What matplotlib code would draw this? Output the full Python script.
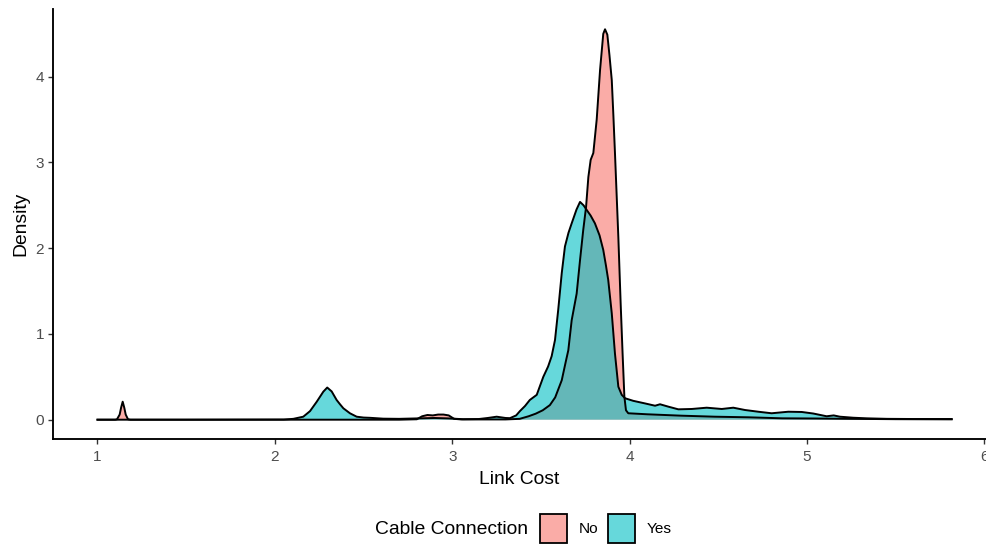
import matplotlib
matplotlib.use("Agg")
import matplotlib.pyplot as plt
from matplotlib.patches import Patch
from matplotlib.colors import to_rgba

plt.rcParams['font.family'] = ['Liberation Sans', 'DejaVu Sans']

# ---- data ----
groups = ["No", "Yes"]
colors = {"No": "#F8766D", "Yes": "#00BFC4"}

no_x = [1.000, 1.100, 1.110, 1.125, 1.133, 1.142, 1.151, 1.159, 1.172, 1.185,
        2.700, 2.800, 2.830, 2.860, 2.890, 2.920, 2.950, 2.980, 3.010, 3.050,
        3.300, 3.380, 3.430, 3.470, 3.510, 3.550, 3.580, 3.617, 3.640, 3.654,
        3.673, 3.701, 3.720, 3.738, 3.754, 3.767, 3.780, 3.795, 3.814, 3.833,
        3.851, 3.861, 3.874, 3.886, 3.899, 3.908, 3.917, 3.936, 3.949, 3.960,
        3.970, 3.979, 3.992, 4.100, 4.290, 4.480, 4.670, 4.860, 5.050, 5.250,
        5.500, 5.815]
no_y = [0.000, 0.000, 0.005, 0.060, 0.140, 0.210, 0.140, 0.060, 0.005, 0.000,
        0.000, 0.005, 0.040, 0.055, 0.050, 0.060, 0.060, 0.050, 0.010, 0.003,
        0.003, 0.010, 0.040, 0.070, 0.110, 0.170, 0.260, 0.460, 0.680, 0.810,
        1.160, 1.470, 1.860, 2.210, 2.480, 2.830, 3.030, 3.110, 3.500, 4.080,
        4.500, 4.553, 4.490, 4.250, 3.960, 3.550, 3.110, 2.130, 1.360, 0.770,
        0.270, 0.110, 0.075, 0.063, 0.047, 0.035, 0.028, 0.016, 0.014, 0.010,
        0.006, 0.004]

yes_x = [1.000, 1.500, 2.050, 2.104, 2.160, 2.198, 2.236, 2.273, 2.295, 2.320,
         2.348, 2.367, 2.386, 2.423, 2.461, 2.500, 2.536, 2.611, 2.700, 2.800,
         2.900, 2.980, 3.060, 3.150, 3.200, 3.250, 3.300, 3.325, 3.360, 3.381,
         3.410, 3.437, 3.476, 3.513, 3.540, 3.560, 3.579, 3.597, 3.617, 3.635,
         3.655, 3.673, 3.700, 3.720, 3.740, 3.758, 3.780, 3.804, 3.830, 3.851,
         3.866, 3.879, 3.899, 3.917, 3.936, 3.955, 3.974, 4.020, 4.086, 4.143,
         4.171, 4.218, 4.274, 4.350, 4.434, 4.519, 4.584, 4.650, 4.725, 4.800,
         4.894, 4.970, 5.035, 5.110, 5.150, 5.185, 5.260, 5.336, 5.450, 5.600,
         5.815]
yes_y = [0.000, 0.000, 0.002, 0.010, 0.035, 0.100, 0.210, 0.327, 0.375, 0.330,
         0.230, 0.180, 0.133, 0.075, 0.035, 0.025, 0.022, 0.012, 0.010, 0.015,
         0.020, 0.015, 0.006, 0.008, 0.020, 0.035, 0.020, 0.018, 0.050, 0.100,
         0.160, 0.230, 0.290, 0.500, 0.620, 0.740, 0.930, 1.280, 1.710, 2.020,
         2.180, 2.290, 2.450, 2.540, 2.500, 2.445, 2.380, 2.290, 2.150, 1.980,
         1.800, 1.630, 1.240, 0.770, 0.385, 0.290, 0.250, 0.220, 0.190, 0.163,
         0.180, 0.152, 0.121, 0.125, 0.140, 0.125, 0.140, 0.113, 0.093, 0.075,
         0.093, 0.090, 0.072, 0.040, 0.050, 0.035, 0.023, 0.016, 0.010, 0.008,
         0.008]

series = {"No": (no_x, no_y), "Yes": (yes_x, yes_y)}
x_ticks = [1, 2, 3, 4, 5, 6]
y_ticks = [0, 1, 2, 3, 4]
x_label = "Link Cost"
y_label = "Density"
legend_title = "Cable Connection"

# ---- figure ----
W, H = 986, 544
fig = plt.figure(figsize=(W / 100, H / 100), dpi=100)
ax = fig.add_axes([52.7 / W, (H - 439.3) / H, (W - 52.7) / W, (439.3 - 9.3) / H])

ALPHA = 0.6
for g in groups:
    xs, ys = series[g]
    ax.fill_between(xs, 0, ys, facecolor=to_rgba(colors[g], ALPHA), edgecolor="none", linewidth=0)
    ax.plot(xs, ys, color="black", linewidth=1.4, solid_joinstyle="round")

ax.set_xlim(0.7475, 6.0085)
ax.set_ylim(-0.2286, 4.786)
ax.set_xticks(x_ticks)
ax.set_yticks(y_ticks)
ax.set_xticklabels([str(t) for t in x_ticks])
ax.set_yticklabels([str(t) for t in y_ticks])

for side in ["top", "right"]:
    ax.spines[side].set_visible(False)
for side in ["left", "bottom"]:
    ax.spines[side].set_linewidth(1.35)
    ax.spines[side].set_color("black")

ax.tick_params(axis="both", length=3.6, width=1.0, color="#333333",
               labelcolor="#4D4D4D", labelsize=11.1)
ax.tick_params(axis="x", pad=3.8)
ax.tick_params(axis="y", pad=2.7)

ax.set_xlabel(x_label, fontsize=13.9, color="black", labelpad=5.0)
ax.set_ylabel(y_label, fontsize=13.9, color="black", labelpad=4)

# ---- legend (bottom, horizontal, title to the left) ----
fig.text(375 / W, 1 - 530 / H, legend_title, ha="left", va="center", fontsize=13.9, color="black")
handles = [Patch(facecolor=to_rgba(colors[g], ALPHA), edgecolor="black", linewidth=1.3) for g in groups]
fig.legend(handles, groups, loc="center left", bbox_to_anchor=(540 / W, 1 - 528.5 / H),
           ncol=2, frameon=False, fontsize=11.1, handlelength=1.77, handleheight=2.52,
           handletextpad=0.72, columnspacing=0.65, borderpad=0, borderaxespad=0)

fig.savefig("out.png", dpi=100)
